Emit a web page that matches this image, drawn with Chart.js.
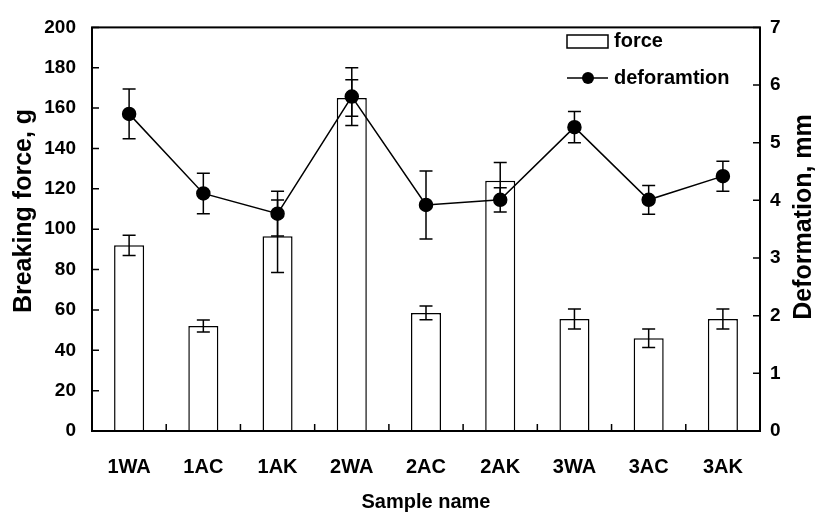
<!DOCTYPE html>
<html>
<head>
<meta charset="utf-8">
<script src="https://cdn.jsdelivr.net/npm/chart.js@4.4.1/dist/chart.umd.min.js"></script>
<style>
  html, body { margin: 0; padding: 0; background: #fff; }
  #wrap { width: 819px; height: 517px; }
</style>
</head>
<body>
<div id="wrap"><canvas id="chart" width="819" height="517"></canvas></div>
<script>
const samples = ['1WA', '1AC', '1AK', '2WA', '2AC', '2AK', '3WA', '3AC', '3AK'];
const force = [92, 52, 96.5, 165, 58.5, 124, 55.5, 46, 55.5];
const forceErr = [5, 3, 18, 9, 3.4, 9, 5, 4.6, 5];
const deformation = [5.5, 4.12, 3.77, 5.8, 3.92, 4.01, 5.27, 4.01, 4.42];
const deformationErr = [0.43, 0.35, 0.39, 0.5, 0.59, 0.21, 0.27, 0.25, 0.26];

const FONT = "'Liberation Sans', Arial, sans-serif";
const tickFont = { family: FONT, size: 19, weight: 'bold' };
const xFont = { family: FONT, size: 20, weight: 'bold' };

// error bars, drawn from the scales
const errorBars = {
    id: 'errorBars',
    afterDatasetsDraw(chart) {
        const c = chart.ctx;
        const x = chart.scales.x;
        c.save();
        c.strokeStyle = '#000';
        c.lineWidth = 1.5;
        const draw = (vals, errs, scale) => {
            vals.forEach((v, i) => {
                const px = x.getPixelForValue(i);
                const top = scale.getPixelForValue(v + errs[i]);
                const bot = scale.getPixelForValue(v - errs[i]);
                c.beginPath();
                c.moveTo(px, top); c.lineTo(px, bot);
                c.moveTo(px - 6.5, top); c.lineTo(px + 6.5, top);
                c.moveTo(px - 6.5, bot); c.lineTo(px + 6.5, bot);
                c.stroke();
            });
        };
        draw(force, forceErr, chart.scales.y);
        draw(deformation, deformationErr, chart.scales.y1);
        c.restore();
    }
};

// frame, inward ticks, y titles and legend
const frame = {
    id: 'frame',
    afterDraw(chart) {
        const c = chart.ctx;
        const a = chart.chartArea;
        const {x, y, y1} = chart.scales;
        c.save();
        c.strokeStyle = '#000';
        c.lineWidth = 2;
        c.strokeRect(a.left, a.top, a.right - a.left, a.bottom - a.top);
        c.lineWidth = 1.5;
        c.beginPath();
        y.ticks.forEach(t => {
            const py = y.getPixelForValue(t.value);
            c.moveTo(a.left, py); c.lineTo(a.left + 7, py);
        });
        y1.ticks.forEach(t => {
            const py = y1.getPixelForValue(t.value);
            c.moveTo(a.right, py); c.lineTo(a.right - 7, py);
        });
        for (let i = 0; i < samples.length - 1; i++) {
            const px = (x.getPixelForValue(i) + x.getPixelForValue(i + 1)) / 2;
            c.moveTo(px, a.bottom); c.lineTo(px, a.bottom - 7);
        }
        c.stroke();

        // y axis titles, both reading bottom to top
        c.fillStyle = '#000';
        c.textAlign = 'center';
        c.textBaseline = 'middle';
        c.font = "bold 25px " + FONT;
        c.save();
        c.translate(24, 211);
        c.rotate(-Math.PI / 2);
        c.fillText('Breaking force, g', 0, 0);
        c.restore();
        c.save();
        c.font = "bold 25px " + FONT;
        c.translate(804, 217);
        c.rotate(-Math.PI / 2);
        c.fillText('Deformation, mm', 0, 0);
        c.restore();

        // legend
        c.lineWidth = 1.5;
        c.strokeRect(567, 35, 41, 13);
        c.beginPath();
        c.moveTo(567, 78); c.lineTo(608, 78);
        c.stroke();
        c.beginPath();
        c.arc(588, 78, 6, 0, Math.PI * 2);
        c.fill();
        c.font = "bold 20px " + FONT;
        c.textAlign = 'left';
        c.fillText('force', 614, 41);
        c.fillText('deforamtion', 614, 78);
        c.restore();
    }
};

const ctx = document.getElementById('chart').getContext('2d');

const chart = new Chart(ctx, {
    type: 'bar',
    data: {
        labels: samples,
        datasets: [{
            type: 'line',
            label: 'deforamtion',
            data: deformation,
            yAxisID: 'y1',
            borderColor: '#000',
            borderWidth: 1.5,
            pointRadius: 6.5,
            pointBackgroundColor: '#000',
            pointBorderColor: '#000',
            tension: 0,
            order: 0
        }, {
            type: 'bar',
            label: 'force',
            data: force,
            yAxisID: 'y',
            backgroundColor: '#fff',
            borderColor: '#000',
            borderWidth: 1.5,
            borderSkipped: 'bottom',
            categoryPercentage: 1,
            barPercentage: 0.405,
            order: 1
        }]
    },
    options: {
        responsive: false,
        animation: false,
        events: [],
        layout: { padding: { top: 16, left: 0, right: 0, bottom: 0 } },
        plugins: {
            legend: { display: false },
            tooltip: { enabled: false }
        },
        scales: {
            x: {
                grid: { display: false, drawTicks: false },
                border: { display: false },
                ticks: { color: '#000', font: xFont, padding: 24, maxRotation: 0 },
                title: { display: true, text: 'Sample name', color: '#000', font: xFont, padding: { top: 0, bottom: 3 } },
                afterFit(s) { s.height = 86; }
            },
            y: {
                position: 'left',
                min: 0, max: 200,
                grid: { display: false, drawTicks: false },
                border: { display: false },
                ticks: { stepSize: 20, color: '#000', font: tickFont, padding: 16 },
                afterFit(s) { s.width = 92; }
            },
            y1: {
                position: 'right',
                min: 0, max: 7,
                grid: { display: false, drawTicks: false },
                border: { display: false },
                ticks: { stepSize: 1, color: '#000', font: tickFont, padding: 10 },
                afterFit(s) { s.width = 59; }
            }
        }
    },
    plugins: [errorBars, frame]
});
</script>
</body>
</html>
